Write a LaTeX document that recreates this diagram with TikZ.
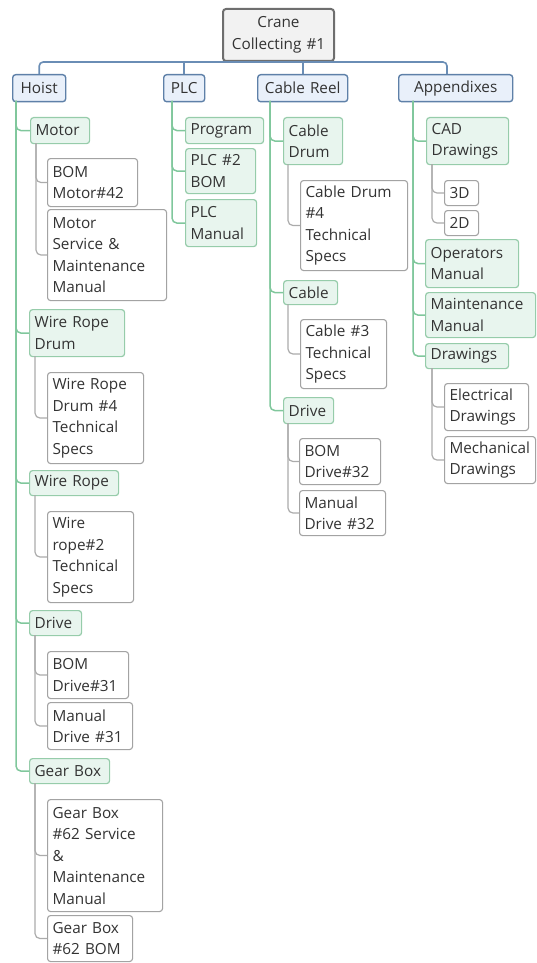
\documentclass[tikz,border=0pt]{standalone}
\usepackage{fontspec}
\setmainfont{Open Sans}
\definecolor{txt}{HTML}{333333}
\definecolor{rootfill}{HTML}{F2F2F2}
\definecolor{rootdraw}{HTML}{6E6E6E}
\definecolor{lonefill}{HTML}{E9F0FA}
\definecolor{lonedraw}{HTML}{5E80A8}
\definecolor{lonelink}{HTML}{6A8DB5}
\definecolor{ltwofill}{HTML}{E8F5EE}
\definecolor{ltwodraw}{HTML}{96CCAA}
\definecolor{ltwolink}{HTML}{80C79C}
\definecolor{lthreedraw}{HTML}{A3A3A3}
\definecolor{lthreelink}{HTML}{ABABAB}
\tikzset{
  basebox/.style={draw, rounded corners=3pt, inner xsep=5pt, inner ysep=0pt,
    align=left, text=txt, font=\fontsize{15.3}{21.5}\selectfont},
  rootbox/.style={basebox, fill=rootfill, draw=rootdraw, line width=2pt, align=center},
  lonebox/.style={basebox, fill=lonefill, draw=lonedraw, line width=1.4pt, align=center},
  ltwobox/.style={basebox, fill=ltwofill, draw=ltwodraw, line width=1.2pt},
  lthreebox/.style={basebox, fill=white, draw=lthreedraw, line width=1.1pt},
  rootlink/.style={draw=lonelink, line width=1.6pt, rounded corners=4pt},
  glink/.style={draw=ltwolink, line width=1.5pt, rounded corners=5pt},
  hlink/.style={draw=lthreelink, line width=1.2pt, rounded corners=5pt},
}
\newcommand\bx[7]{%
  \pgfmathsetmacro\bxw{#5-#3-10}%
  \pgfmathsetmacro\bxh{#6-#4}%
  \node[#2, anchor=north west, text width=\bxw pt, minimum height=\bxh pt] (#1) at (#3,#4) {#7};}
\begin{document}
\begin{tikzpicture}[x=1pt,y=-1pt]
\useasboundingbox (0,0) rectangle (537,963);
% root and level 1
\bx{root}{rootbox}{222}{8}{333}{60}{Crane\\Collecting \#1}
\bx{hoist}{lonebox}{12}{74}{65}{101}{Hoist}
\bx{plc}{lonebox}{163}{74}{204}{101}{PLC}
\bx{reel}{lonebox}{257}{74}{347}{101}{Cable Reel}
\bx{apx}{lonebox}{398}{74}{512}{101}{Appendixes}
% Hoist
\bx{motor}{ltwobox}{30}{117}{89}{143}{Motor}
\bx{bomm}{lthreebox}{47}{158}{137}{206}{BOM\\Motor\#42}
\bx{msm}{lthreebox}{47}{209}{166}{300}{Motor\\Service \&\\Maintenance\\Manual}
\bx{wrd}{ltwobox}{29}{309}{124}{356}{Wire Rope\\Drum}
\bx{wrdf}{lthreebox}{47}{372}{143}{463}{Wire Rope\\Drum \#4\\Technical\\Specs}
\bx{wr}{ltwobox}{29}{470}{118}{495}{Wire Rope}
\bx{wrt}{lthreebox}{47}{511}{133}{602}{Wire\\rope\#2\\Technical\\Specs}
\bx{hdrive}{ltwobox}{29}{610}{81}{635}{Drive}
\bx{bomda}{lthreebox}{47}{651}{128}{698}{BOM\\Drive\#31}
\bx{mda}{lthreebox}{47}{702}{132}{749}{Manual\\Drive \#31}
\bx{gb}{ltwobox}{29}{758}{109}{783}{Gear Box}
\bx{gbs}{lthreebox}{47}{799}{162}{911}{Gear Box\\\#62 Service\\\&\\Maintenance\\Manual}
\bx{gbb}{lthreebox}{47}{915}{132}{961}{Gear Box\\\#62 BOM}
% PLC
\bx{prog}{ltwobox}{185}{117}{263}{143}{Program}
\bx{plcbom}{ltwobox}{185}{148}{255}{193}{PLC \#2\\BOM}
\bx{plcman}{ltwobox}{185}{199}{256}{246}{PLC\\Manual}
% Cable Reel
\bx{cdrum}{ltwobox}{283}{117}{342}{164}{Cable\\Drum}
\bx{cdf}{lthreebox}{300}{180}{407}{270}{Cable Drum\\\#4\\Technical\\Specs}
\bx{cable}{ltwobox}{283}{280}{337}{304}{Cable}
\bx{cth}{lthreebox}{300}{319}{386}{388}{Cable \#3\\Technical\\Specs}
\bx{rdrive}{ltwobox}{283}{397}{333}{423}{Drive}
\bx{bomdb}{lthreebox}{299}{438}{380}{484}{BOM\\Drive\#32}
\bx{mdb}{lthreebox}{299}{490}{385}{535}{Manual\\Drive \#32}
% Appendixes
\bx{cad}{ltwobox}{426}{117}{508}{164}{CAD\\Drawings}
\bx{dthree}{lthreebox}{444}{180}{478}{205}{3D}
\bx{dtwo}{lthreebox}{444}{210}{478}{235}{2D}
\bx{ops}{ltwobox}{425}{239}{518}{287}{Operators\\Manual}
\bx{mm}{ltwobox}{425}{292}{535}{337}{Maintenance\\Manual}
\bx{dr}{ltwobox}{425}{343}{508}{368}{Drawings}
\bx{el}{lthreebox}{444}{383}{528}{430}{Electrical\\Drawings}
\bx{me}{lthreebox}{444}{436}{535}{483}{Mechanical\\Drawings}
% root links
\coordinate (bar) at (0,62);
\coordinate (apxtop) at (447,74);
\draw[rootlink] (hoist.north) |- (apxtop |- bar) -- (apxtop);
\draw[rootlink] (root.south) -- (root.south |- bar);
\draw[rootlink] (plc.north) -- (plc.north |- bar);
\draw[rootlink] (reel.north) -- (reel.north |- bar);
% trunks
\coordinate (hT) at (16,101);
\coordinate (pT) at (172,101);
\coordinate (rT) at (270,101);
\coordinate (aT) at (413,101);
\foreach \c in {motor,wrd,wr,hdrive,gb} \draw[glink] (hT) |- (\c.west);
\foreach \c in {prog,plcbom,plcman} \draw[glink] (pT) |- (\c.west);
\foreach \c in {cdrum,cable,rdrive} \draw[glink] (rT) |- (\c.west);
\foreach \c in {cad,ops,mm,dr} \draw[glink] (aT) |- (\c.west);
% sub trunks
\coordinate (mT) at (36,143);
\coordinate (wdT) at (35,356);
\coordinate (wrT) at (35,495);
\coordinate (hdT) at (35,635);
\coordinate (gbT) at (35,783);
\coordinate (cdT) at (288,164);
\coordinate (caT) at (288,304);
\coordinate (rdT) at (288,423);
\coordinate (cadT) at (432,164);
\coordinate (drT) at (432,368);
\foreach \c in {bomm,msm} \draw[hlink] (mT) |- (\c.west);
\draw[hlink] (wdT) |- (wrdf.west);
\draw[hlink] (wrT) |- (wrt.west);
\foreach \c in {bomda,mda} \draw[hlink] (hdT) |- (\c.west);
\foreach \c in {gbs,gbb} \draw[hlink] (gbT) |- (\c.west);
\draw[hlink] (cdT) |- (cdf.west);
\draw[hlink] (caT) |- (cth.west);
\foreach \c in {bomdb,mdb} \draw[hlink] (rdT) |- (\c.west);
\foreach \c in {dthree,dtwo} \draw[hlink] (cadT) |- (\c.west);
\foreach \c in {el,me} \draw[hlink] (drT) |- (\c.west);
\end{tikzpicture}
\end{document}
